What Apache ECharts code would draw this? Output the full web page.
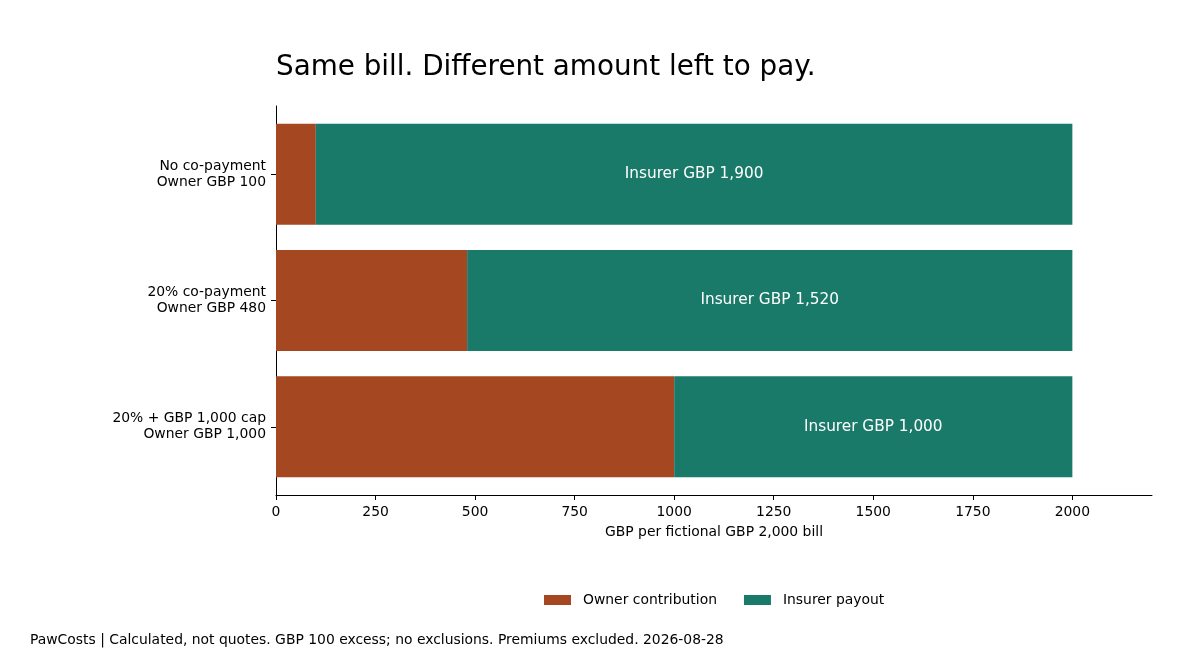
<!DOCTYPE html>
<html>
<head>
<meta charset="utf-8">
<script src="https://cdn.jsdelivr.net/npm/echarts@6/dist/echarts.min.js"></script>
<style>
html, body { margin: 0; padding: 0; background: #fff; }
#main { width: 1200px; height: 660px; }
</style>
</head>
<body>
<div id="main"></div>
<script>
var categories = ['No co-payment\nOwner GBP 100', '20% co-payment\nOwner GBP 480', '20% + GBP 1,000 cap\nOwner GBP 1,000'];
var ownerValues = [100, 480, 1000];
var insurerValues = [1900, 1520, 1000];
var xTicks = [0, 250, 500, 750, 1000, 1250, 1500, 1750, 2000];

var font = 'DejaVu Sans';
var chart = echarts.init(document.getElementById('main'), null, {renderer: 'canvas'});

function fmt(v){
    return String(v).replace(/\B(?=(\d{3})+(?!\d))/g, ',');
}

var option = {
    animation: false,
    backgroundColor: '#fff',
    textStyle: { fontFamily: font },
    title: {
        text: 'Same bill. Different amount left to pay.',
        left: 271,
        top: 49,
        textStyle: { fontFamily: font, fontSize: 27.8, fontWeight: 'normal', color: '#000' }
    },
    graphic: [{
        type: 'text',
        left: 30,
        top: 633,
        style: {
            text: 'PawCosts | Calculated, not quotes. GBP 100 excess; no exclusions. Premiums excluded. 2026-08-28',
            font: '13.9px "DejaVu Sans"',
            fill: '#000'
        }
    }],
    legend: {
        data: ['Owner contribution', 'Insurer payout'],
        left: 539,
        top: 588,
        itemWidth: 27,
        itemHeight: 10,
        itemGap: 27,
        icon: 'rect',
        textStyle: { fontFamily: font, fontSize: 13.9, color: '#000', padding: [0, 0, 0, 7] }
    },
    // bars grid, and an outer grid that only carries the left spine
    grid: [
        { left: 276, right: 48, top: 111, bottom: 170, containLabel: false },
        { left: 276, right: 48, top: 106, bottom: 165, containLabel: false }
    ],
    xAxis: [{
        type: 'value',
        gridIndex: 0,
        min: 0,
        max: 2200,
        interval: 250,
        offset: 5,
        name: 'GBP per fictional GBP 2,000 bill',
        nameLocation: 'middle',
        nameGap: 30,
        nameTextStyle: { fontFamily: font, fontSize: 13.9, color: '#000' },
        axisLine: { show: true, lineStyle: { color: '#000', width: 1 } },
        axisTick: { show: true, length: 5, lineStyle: { color: '#000' }, customValues: xTicks },
        axisLabel: { fontFamily: font, fontSize: 13.9, color: '#000', margin: 10, customValues: xTicks,
            formatter: function(v){ return String(v); } },
        splitLine: { show: false }
    }, {
        type: 'value',
        gridIndex: 1,
        show: false
    }],
    yAxis: [{
        type: 'category',
        gridIndex: 0,
        data: categories,
        inverse: true,
        axisLine: { show: false },
        axisTick: { show: true, length: 5, alignWithLabel: true, lineStyle: { color: '#000' } },
        axisLabel: { fontFamily: font, fontSize: 13.9, color: '#000', margin: 10, lineHeight: 16,
            align: 'right', padding: [6, 0, 0, 0] }
    }, {
        type: 'category',
        gridIndex: 1,
        data: categories,
        axisLine: { show: true, lineStyle: { color: '#000', width: 1 } },
        axisTick: { show: false },
        axisLabel: { show: false }
    }],
    series: [{
        name: 'Owner contribution',
        type: 'bar',
        stack: 'bill',
        data: ownerValues,
        barWidth: '80%',
        itemStyle: { color: '#A54822' }
    }, {
        name: 'Insurer payout',
        type: 'bar',
        stack: 'bill',
        data: insurerValues,
        barWidth: '80%',
        itemStyle: { color: '#1A7A69' },
        label: {
            show: true,
            position: 'inside',
            color: '#fff',
            fontFamily: font,
            fontSize: 15.3,
            formatter: function(p){ return 'Insurer GBP ' + fmt(p.value); }
        }
    }]
};

chart.setOption(option);
</script>
</body>
</html>
